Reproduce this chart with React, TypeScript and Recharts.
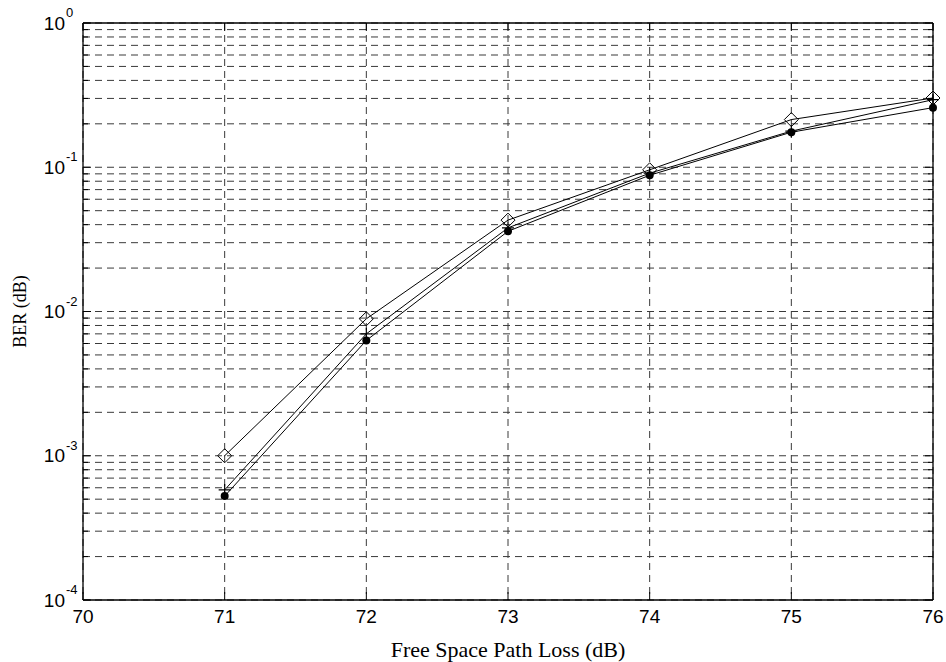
import React from "react";
import {
  LineChart,
  Line,
  XAxis,
  YAxis,
  CartesianGrid,
} from "recharts";

// path loss (dB) on the x axis
const pathLoss = [71, 72, 73, 74, 75, 76];

// BER
const berDiamond = [1.0e-3, 8.9e-3, 0.043, 0.096, 0.214, 0.302];
const berPlus = [5.8e-4, 7.0e-3, 0.038, 0.091, 0.178, 0.294];
const berDot = [5.25e-4, 6.3e-3, 0.036, 0.088, 0.175, 0.259];

const xTicks = [70, 71, 72, 73, 74, 75, 76];
const decades = [1e-4, 1e-3, 1e-2, 1e-1, 1];
const mantissas = [1, 2, 3, 4, 5, 6, 7, 8, 9];

const yTicks: number[] = [];
decades.forEach((d) => {
  if (d === 1) {
    yTicks.push(1);
    return;
  }
  mantissas.forEach((m) => yTicks.push(m === 1 ? d : d * m));
});

const data = pathLoss.map((x, i) => ({
  x,
  diamond: berDiamond[i],
  plus: berPlus[i],
  dot: berDot[i],
}));

const TICK_FONT = "'Liberation Sans', Arial, sans-serif";
const TITLE_FONT = "'Liberation Serif', 'Times New Roman', serif";

const LeftTick = (props: any) => {
  const { x, y, payload } = props;
  const v = payload.value;
  const major = decades.includes(v);
  const exp = Math.round(Math.log10(v));
  return (
    <g>
      <line x1={x} x2={x + (major ? 8 : 5)} y1={y} y2={y} stroke="#000" />
      {major && (
        <>
          <text
            x={x - 18}
            y={y}
            textAnchor="end"
            dominantBaseline="central"
            fontFamily={TICK_FONT}
            fontSize={19}
            fill="#000"
          >
            10
          </text>
          <text
            x={x - 17}
            y={y - 6}
            textAnchor="start"
            fontFamily={TICK_FONT}
            fontSize={13}
            fill="#000"
          >
            {exp}
          </text>
        </>
      )}
    </g>
  );
};

const RightTick = (props: any) => {
  const { x, y, payload } = props;
  const major = decades.includes(payload.value);
  return <line x1={x - (major ? 8 : 5)} x2={x} y1={y} y2={y} stroke="#000" />;
};

const BottomTick = (props: any) => {
  const { x, y, payload } = props;
  return (
    <g>
      <line x1={x} x2={x} y1={y} y2={y - 8} stroke="#000" />
      <text
        x={x}
        y={y + 16}
        textAnchor="middle"
        dominantBaseline="central"
        fontFamily={TICK_FONT}
        fontSize={19}
        fill="#000"
      >
        {payload.value}
      </text>
    </g>
  );
};

const TopTick = (props: any) => {
  const { x, y } = props;
  return <line x1={x} x2={x} y1={y} y2={y + 8} stroke="#000" />;
};

const diamondDot = (p: any) => {
  const { cx, cy, index } = p;
  return (
    <path
      key={`d-${index}`}
      d={`M${cx},${cy - 7}L${cx + 7},${cy}L${cx},${cy + 7}L${cx - 7},${cy}Z`}
      fill="none"
      stroke="#000"
      strokeWidth={1}
    />
  );
};

const plusDot = (p: any) => {
  const { cx, cy, index } = p;
  return (
    <path
      key={`p-${index}`}
      d={`M${cx - 6},${cy}H${cx + 6}M${cx},${cy - 6}V${cy + 6}`}
      stroke="#000"
      strokeWidth={1.2}
    />
  );
};

const filledDot = (p: any) => {
  const { cx, cy, index } = p;
  return <circle key={`c-${index}`} cx={cx} cy={cy} r={4} fill="#000" />;
};

export default function App() {
  return (
    <div style={{ position: "absolute", left: 0, top: 0, background: "#fff" }}>
      <LineChart
        width={946}
        height={662}
        data={data}
        margin={{ top: 0, right: 0, bottom: 0, left: 0 }}
      >
        <CartesianGrid
          stroke="#3a3a3a"
          strokeDasharray="7 5"
          verticalValues={xTicks}
        />
        <XAxis
          dataKey="x"
          type="number"
          domain={[70, 76]}
          ticks={xTicks}
          height={62}
          tickSize={0}
          tickMargin={0}
          tickLine={false}
          axisLine={{ stroke: "#000", strokeWidth: 1.3 }}
          tick={<BottomTick />}
          interval={0}
          label={{
            value: "Free Space Path Loss (dB)",
            position: "insideBottom",
            offset: 5,
            style: { fontFamily: TITLE_FONT, fontSize: 22, fill: "#000" },
          }}
        />
        <XAxis
          xAxisId="top"
          orientation="top"
          dataKey="x"
          type="number"
          domain={[70, 76]}
          ticks={xTicks}
          height={23}
          tickSize={0}
          tickMargin={0}
          tickLine={false}
          axisLine={{ stroke: "#000", strokeWidth: 1.3 }}
          tick={<TopTick />}
          interval={0}
        />
        <YAxis
          scale="log"
          domain={[1e-4, 1]}
          allowDataOverflow
          ticks={yTicks}
          interval={0}
          width={83}
          tickSize={0}
          tickMargin={0}
          tickLine={false}
          axisLine={{ stroke: "#000", strokeWidth: 1.3 }}
          tick={<LeftTick />}
          label={{
            value: "BER (dB)",
            angle: -90,
            position: "insideLeft",
            offset: 20,
            style: {
              fontFamily: TITLE_FONT,
              fontSize: 18,
              fill: "#000",
              textAnchor: "middle",
            },
          }}
        />
        <YAxis
          yAxisId="right"
          orientation="right"
          scale="log"
          domain={[1e-4, 1]}
          allowDataOverflow
          ticks={yTicks}
          interval={0}
          width={13}
          tickSize={0}
          tickMargin={0}
          tickLine={false}
          axisLine={{ stroke: "#000", strokeWidth: 1.3 }}
          tick={<RightTick />}
        />
        <Line
          dataKey="diamond"
          stroke="#000"
          strokeWidth={1}
          dot={diamondDot}
          isAnimationActive={false}
        />
        <Line
          dataKey="plus"
          stroke="#000"
          strokeWidth={1}
          dot={plusDot}
          isAnimationActive={false}
        />
        <Line
          dataKey="dot"
          stroke="#000"
          strokeWidth={1}
          dot={filledDot}
          isAnimationActive={false}
        />
      </LineChart>
    </div>
  );
}
